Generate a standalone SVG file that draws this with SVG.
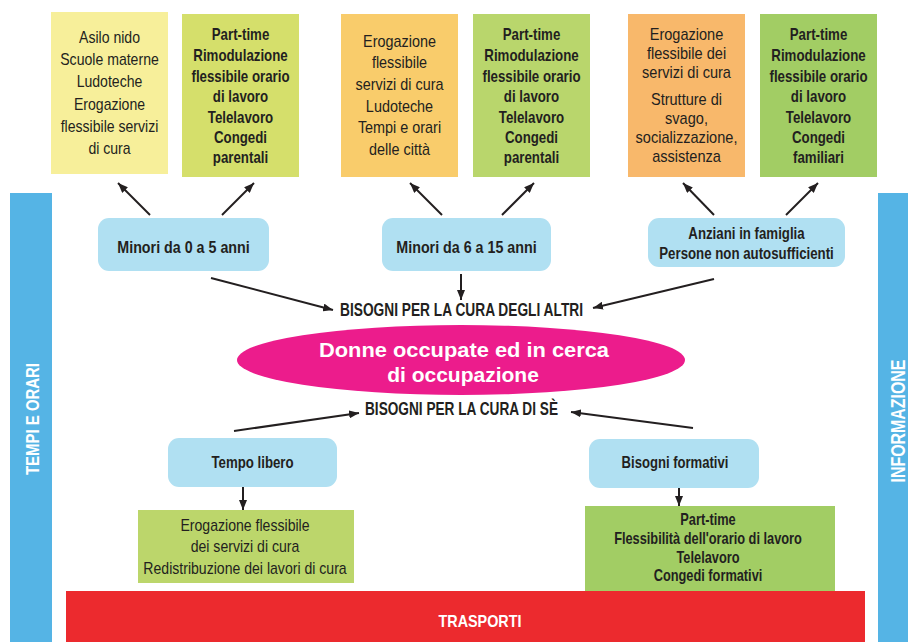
<svg xmlns="http://www.w3.org/2000/svg" width="908" height="642" viewBox="0 0 908 642">
<defs>
<marker id="ah" viewBox="0 0 10 8" refX="10" refY="4" markerWidth="10" markerHeight="8" orient="auto" markerUnits="userSpaceOnUse"><path d="M0,0 L10,4 L0,8 z" fill="#231F20"/></marker>
<style>
text{font-family:"Liberation Sans",Arial,sans-serif;fill:#231F20;text-anchor:middle}
.r{font-size:16px}
.b{font-size:16px;font-weight:bold}
.m{font-size:17px;font-weight:bold}
.h{font-size:18px;font-weight:bold}
.w{fill:#ffffff;font-weight:bold}
.node{fill:#B0E0F2}
.c line{stroke:#231F20;stroke-width:2;marker-end:url(#ah)}
</style>
</defs>
<rect width="908" height="642" fill="#ffffff"/>

<g id="tempi-orari"><rect x="10" y="193" width="42" height="449" fill="#55B4E5"/>
<text class="w" transform="translate(39,419) rotate(-90)" font-size="19" textLength="112" lengthAdjust="spacingAndGlyphs">TEMPI E ORARI</text></g>
<g id="informazione"><rect x="878" y="193" width="30" height="449" fill="#55B4E5"/>
<text class="w" transform="translate(905,421) rotate(-90)" font-size="20" textLength="123" lengthAdjust="spacingAndGlyphs">INFORMAZIONE</text></g>
<g id="trasporti"><rect x="66" y="591" width="799" height="51" fill="#EC2A2E"/>
<text class="w" x="480" y="627" font-size="17" textLength="83" lengthAdjust="spacingAndGlyphs">TRASPORTI</text></g>

<g id="box1"><rect x="51" y="12" width="117" height="162" fill="#F7EF9A"/>
<g transform="translate(109.5,0) scale(0.88,1)"><text class="r"><tspan x="0" y="43">Asilo nido</tspan><tspan x="0" y="65">Scuole materne</tspan><tspan x="0" y="87">Ludoteche</tspan><tspan x="0" y="110">Erogazione</tspan><tspan x="0" y="132">flessibile servizi</tspan><tspan x="0" y="154">di cura</tspan></text></g></g>
<g id="box2"><rect x="182" y="14" width="117" height="163" fill="#D5DF6B"/>
<g transform="translate(240.5,0) scale(0.83,1)"><text class="b"><tspan x="0" y="40">Part-time</tspan><tspan x="0" y="61">Rimodulazione</tspan><tspan x="0" y="82">flessibile orario</tspan><tspan x="0" y="102">di lavoro</tspan><tspan x="0" y="123">Telelavoro</tspan><tspan x="0" y="143">Congedi</tspan><tspan x="0" y="163">parentali</tspan></text></g></g>
<g id="box3"><rect x="341" y="14" width="117" height="163" fill="#F9CC6B"/>
<g transform="translate(399.5,0) scale(0.9,1)"><text class="r"><tspan x="0" y="47">Erogazione</tspan><tspan x="0" y="68">flessibile</tspan><tspan x="0" y="90">servizi di cura</tspan><tspan x="0" y="112">Ludoteche</tspan><tspan x="0" y="133">Tempi e orari</tspan><tspan x="0" y="155">delle città</tspan></text></g></g>
<g id="box4"><rect x="473" y="14" width="117" height="163" fill="#B9D66C"/>
<g transform="translate(531.5,0) scale(0.83,1)"><text class="b"><tspan x="0" y="40">Part-time</tspan><tspan x="0" y="61">Rimodulazione</tspan><tspan x="0" y="82">flessibile orario</tspan><tspan x="0" y="102">di lavoro</tspan><tspan x="0" y="123">Telelavoro</tspan><tspan x="0" y="143">Congedi</tspan><tspan x="0" y="163">parentali</tspan></text></g></g>
<g id="box5"><rect x="628" y="14" width="117" height="163" fill="#F8B86B"/>
<g transform="translate(686.5,0) scale(0.91,1)"><text class="r"><tspan x="0" y="40">Erogazione</tspan><tspan x="0" y="59">flessibile dei</tspan><tspan x="0" y="78">servizi di cura</tspan><tspan x="0" y="105">Strutture di</tspan><tspan x="0" y="124">svago,</tspan><tspan x="0" y="143">socializzazione,</tspan><tspan x="0" y="162">assistenza</tspan></text></g></g>
<g id="box6"><rect x="760" y="14" width="117" height="163" fill="#A2CD64"/>
<g transform="translate(818.5,0) scale(0.83,1)"><text class="b"><tspan x="0" y="40">Part-time</tspan><tspan x="0" y="61">Rimodulazione</tspan><tspan x="0" y="82">flessibile orario</tspan><tspan x="0" y="102">di lavoro</tspan><tspan x="0" y="123">Telelavoro</tspan><tspan x="0" y="143">Congedi</tspan><tspan x="0" y="163">familiari</tspan></text></g></g>

<g id="minori05"><rect class="node" x="98" y="218" width="171" height="53" rx="11"/>
<g transform="translate(183.5,0) scale(0.84,1)"><text class="m" x="0" y="253">Minori da 0 a 5 anni</text></g></g>
<g id="minori615"><rect class="node" x="382" y="218" width="169" height="53" rx="11"/>
<g transform="translate(466.5,0) scale(0.84,1)"><text class="m" x="0" y="253">Minori da 6 a 15 anni</text></g></g>
<g id="anziani"><rect class="node" x="648" y="218" width="197" height="49" rx="11"/>
<g transform="translate(746.5,0) scale(0.78,1)"><text class="m"><tspan x="0" y="239">Anziani in famiglia</tspan><tspan x="0" y="259">Persone non autosufficienti</tspan></text></g></g>

<g id="bisogni-altri"><text class="h" x="461.5" y="316" textLength="243" lengthAdjust="spacingAndGlyphs">BISOGNI PER LA CURA DEGLI ALTRI</text></g>
<g id="donne"><ellipse cx="461" cy="360" rx="224" ry="35" fill="#EC1C8C"/>
<text class="w" font-size="21"><tspan x="464" y="357" textLength="290" lengthAdjust="spacingAndGlyphs">Donne occupate ed in cerca</tspan><tspan x="463" y="382">di occupazione</tspan></text></g>
<g id="bisogni-se"><text class="h" x="461.5" y="415" textLength="193" lengthAdjust="spacingAndGlyphs">BISOGNI PER LA CURA DI SÈ</text></g>

<g id="tempo-libero"><rect class="node" x="168" y="438" width="169" height="49" rx="11"/>
<g transform="translate(252.5,0) scale(0.78,1)"><text class="m" x="0" y="468">Tempo libero</text></g></g>
<g id="bisogni-formativi"><rect class="node" x="589" y="439" width="170" height="49" rx="11"/>
<g transform="translate(675,0) scale(0.77,1)"><text class="m" x="0" y="468">Bisogni formativi</text></g></g>

<g id="box-tempo"><rect x="138" y="510" width="216" height="73" fill="#BCD66B"/>
<g transform="translate(245,0) scale(0.88,1)"><text class="r"><tspan x="0" y="531">Erogazione flessibile</tspan><tspan x="0" y="552">dei servizi di cura</tspan><tspan x="0" y="574">Redistribuzione dei lavori di cura</tspan></text></g></g>
<g id="box-formativi"><rect x="585" y="506" width="250" height="85" fill="#A2CD64"/>
<g transform="translate(708,0) scale(0.8,1)"><text class="b"><tspan x="0" y="525">Part-time</tspan><tspan x="0" y="544">Flessibilità dell'orario di lavoro</tspan><tspan x="0" y="563">Telelavoro</tspan><tspan x="0" y="581">Congedi formativi</tspan></text></g></g>

<g id="connectors" class="c">
<line x1="150" y1="215" x2="118" y2="183"/>
<line x1="222" y1="215" x2="254" y2="183"/>
<line x1="442" y1="215" x2="410" y2="183"/>
<line x1="502" y1="215" x2="534" y2="183"/>
<line x1="714" y1="215" x2="683" y2="183"/>
<line x1="786" y1="215" x2="818" y2="183"/>
<line x1="211" y1="278" x2="333" y2="310"/>
<line x1="461" y1="274" x2="461" y2="300"/>
<line x1="714" y1="279" x2="593" y2="308"/>
<line x1="234" y1="431" x2="359" y2="413"/>
<line x1="693" y1="428" x2="571" y2="412"/>
<line x1="243" y1="487" x2="243" y2="510"/>
<line x1="679" y1="488" x2="679" y2="506"/>
</g>
</svg>
